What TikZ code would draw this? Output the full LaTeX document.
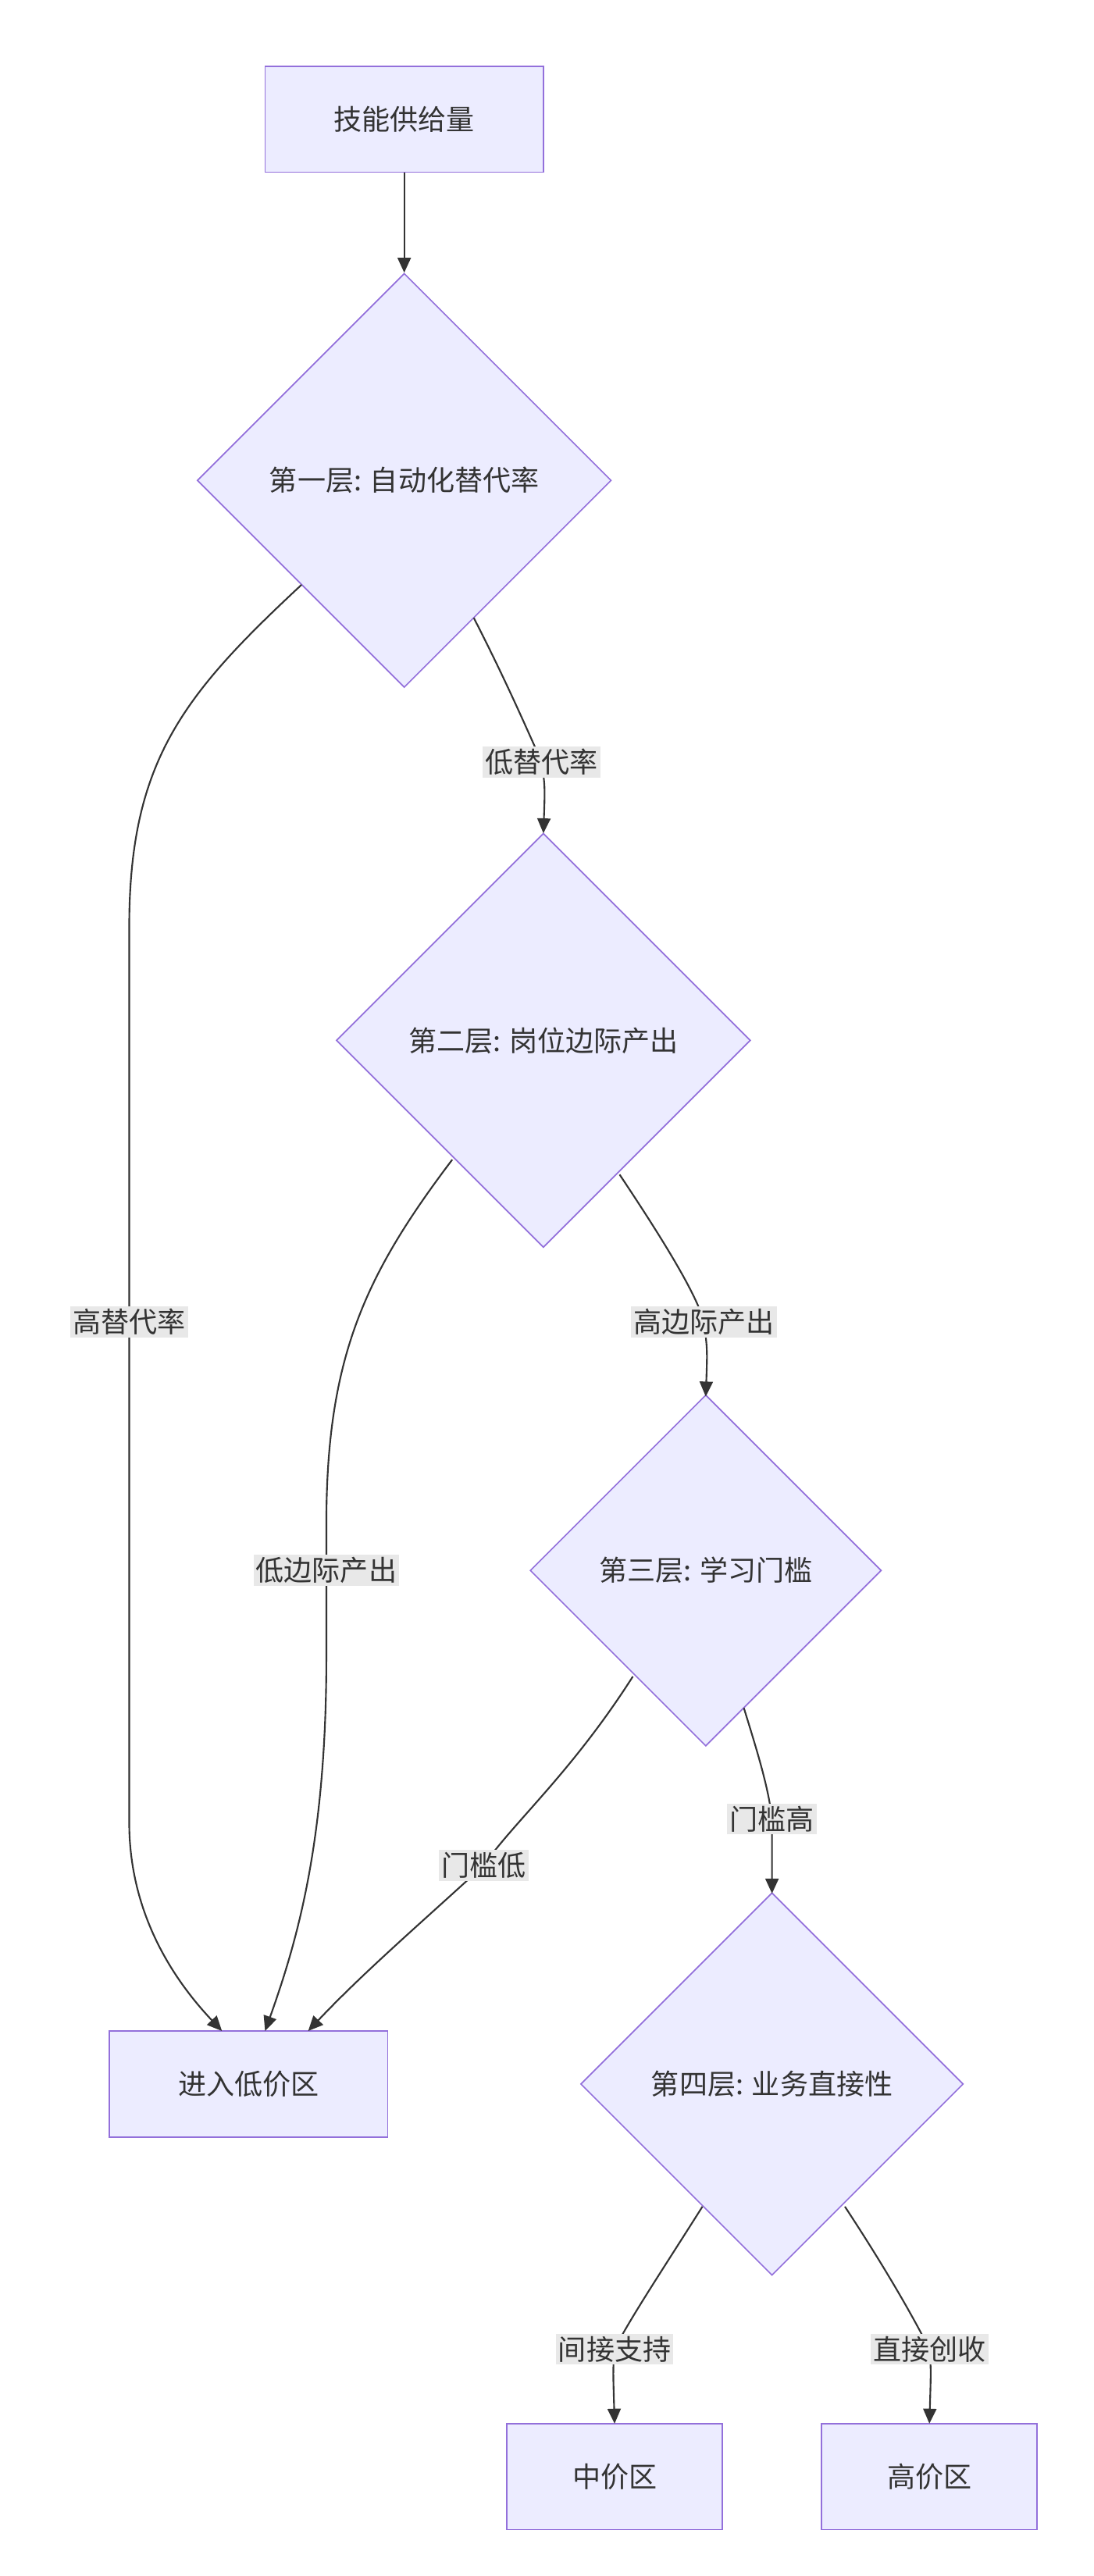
\documentclass[tikz,border=0pt]{standalone}
\usepackage{fontspec}
\setmainfont{Noto Sans CJK SC}
\usetikzlibrary{shapes.geometric,arrows.meta}
\definecolor{nf}{HTML}{ECECFF}
\definecolor{ns}{HTML}{9370DB}
\definecolor{lb}{HTML}{E8E8E8}
\definecolor{ln}{HTML}{333333}
\begin{document}
\begin{tikzpicture}[x=1pt,y=-1pt,
  box/.style={draw=ns,fill=nf,line width=0.8pt,minimum width=168pt,minimum height=64pt,font=\fontsize{17}{20}\selectfont,text=ln},
  sbox/.style={box,minimum width=130pt},
  dia/.style={diamond,draw=ns,fill=nf,line width=0.8pt,inner sep=0pt,font=\fontsize{17}{20}\selectfont,text=ln},
  lab/.style={fill=lb,inner sep=1.5pt,font=\fontsize{17}{20}\selectfont,text=ln},
  arr/.style={draw=ln,line width=1pt,-{Triangle[length=9pt,width=8pt]}}]
\useasboundingbox (0,0) rectangle (660,1555);
\node[box] (s) at (244,72) {技能供给量};
\node[dia,minimum width=250pt,minimum height=250pt] (d1) at (244,290) {第一层: 自动化替代率};
\node[dia,minimum width=250pt,minimum height=250pt] (d2) at (328,628) {第二层: 岗位边际产出};
\node[dia,minimum width=212pt,minimum height=212pt] (d3) at (426,948) {第三层: 学习门槛};
\node[dia,minimum width=231pt,minimum height=231pt] (d4) at (466,1258) {第四层: 业务直接性};
\node[box] (low) at (150,1258) {进入低价区};
\node[sbox] (mid) at (371,1495) {中价区};
\node[sbox] (high) at (561,1495) {高价区};
\coordinate (a1) at (286,373); \coordinate (a2) at (182,353);
\coordinate (b1) at (374,709); \coordinate (b2) at (273,700);
\coordinate (c1) at (449,1031); \coordinate (c2) at (382,1012);
\coordinate (e1) at (424,1332); \coordinate (e2) at (510,1332);
\draw[arr] (s) -- (d1.north);
\draw[arr] (a1) .. controls (305,410) and (318,440) .. (327,460) .. controls (329,475) .. (328,503);
\draw[arr] (a2) .. controls (110,420) and (78,460) .. (78,560) -- (78,1100) .. controls (78,1150) and (100,1190) .. (134,1226);
\draw[arr] (b1) .. controls (398,745) and (420,780) .. (425,798) .. controls (427,815) .. (426,843);
\draw[arr] (b2) .. controls (220,770) and (197,820) .. (197,920) -- (197,1000) .. controls (197,1110) and (180,1170) .. (160,1226);
\draw[arr] (c1) .. controls (458,1060) and (464,1080) .. (466,1098) -- (466,1143);
\draw[arr] (c2) .. controls (345,1070) and (310,1100) .. (292,1126) .. controls (255,1160) and (220,1190) .. (186,1226);
\draw[arr] (e1) .. controls (400,1370) and (380,1400) .. (371,1418) .. controls (370,1430) .. (371,1463);
\draw[arr] (e2) .. controls (535,1370) and (552,1400) .. (561,1418) .. controls (562,1430) .. (561,1463);
\node[lab] (l1) at (327,460) {低替代率};
\node[lab] (l2) at (78,798) {高替代率};
\node[lab] (l3) at (425,798) {高边际产出};
\node[lab] (l4) at (197,948) {低边际产出};
\node[lab] (l5) at (292,1126) {门槛低};
\node[lab] (l6) at (466,1098) {门槛高};
\node[lab] (l7) at (371,1418) {间接支持};
\node[lab] (l8) at (561,1418) {直接创收};
\end{tikzpicture}
\end{document}
